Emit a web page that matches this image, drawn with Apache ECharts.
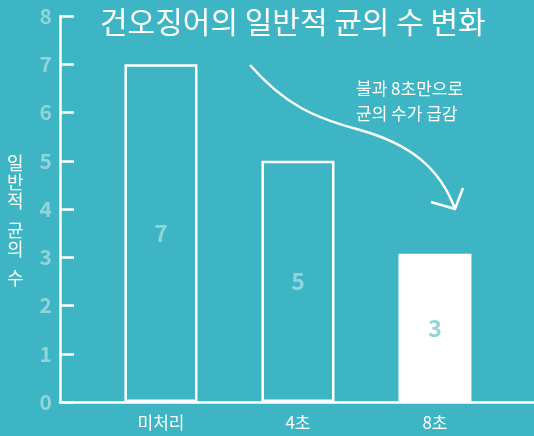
<!DOCTYPE html>
<html><head><meta charset="utf-8">
<script src="https://cdn.jsdelivr.net/npm/echarts@6/dist/echarts.min.js"></script>
<style>html,body{margin:0;padding:0;background:#3db5c4;}#c{width:534px;height:436px;}</style>
</head><body><div id="c"></div>
<script>
const title = '건오징어의 일반적 균의 수 변화';
const categories = ['미처리', '4초', '8초'];
const counts = [7, 5, 3.07];
const countLabels = ['7', '5', '3'];
const yName = ['일', '반', '적', '', '균', '의', '', '수'];
const note = ['불과 8초만으로', '균의 수가 급감'];

const BG = '#3db5c4', PALE = '#93d3da', FONT = '"Noto Sans CJK KR","Noto Sans",sans-serif';
const chart = echarts.init(document.getElementById('c'));
chart.setOption({
  backgroundColor: BG,
  animation: false,
  grid: { left: 60, right: 0, top: 16, bottom: 34 },
  xAxis: {
    type: 'value', min: -0.737, max: 2.723,
    splitLine: { show: false },
    axisLine: { show: true, onZero: false, lineStyle: { color: '#fff', width: 2.5 } },
    axisTick: { show: false },
    axisLabel: {
      customValues: [0, 1, 2],
      formatter: v => categories[Math.round(v)] || '',
      color: '#fff', fontSize: 17, fontFamily: FONT, margin: 12
    }
  },
  yAxis: {
    type: 'value', min: 0, max: 8, interval: 1,
    splitLine: { show: false },
    axisLine: { show: true, onZero: false, lineStyle: { color: '#fff', width: 2.5 } },
    axisTick: { show: true, inside: true, length: 14, lineStyle: { color: '#fff', width: 2.5 } },
    axisLabel: { color: PALE, fontSize: 21, fontWeight: 'bold', fontFamily: FONT, margin: 8 }
  },
  series: [{
    type: 'bar',
    barWidth: 73,
    data: counts.map((v, i) => ({
      value: [i, v],
      itemStyle: i === 2
        ? { color: '#fff', borderColor: '#fff', borderWidth: 2.5 }
        : { color: 'rgba(0,0,0,0)', borderColor: '#fff', borderWidth: 2.5 }
    })),
    label: {
      show: true, position: 'inside',
      formatter: p => countLabels[p.dataIndex],
      color: PALE, fontSize: 23, fontWeight: 'bold', fontFamily: FONT
    }
  }],
  graphic: [
    { type: 'text', left: 100, top: 7, style: { text: title, fill: '#fff', font: '30px ' + FONT } },
    {
      type: 'text', x: 7, y: 154,
      style: {
        text: yName.map(c => c ? '{a|' + c + '}' : '{s|}').join('\n'),
        rich: { a: { fontSize: 18, lineHeight: 19, fill: '#fff', fontFamily: FONT }, s: { lineHeight: 10, fontSize: 10 } },
        fill: '#fff', font: '18px ' + FONT
      }
    },
    { type: 'text', x: 356, y: 76, style: { text: note.join('\n'), fill: '#fff', font: '17px ' + FONT, lineHeight: 25 } },
    {
      type: 'bezierCurve',
      shape: { x1: 250, y1: 65, cpx1: 285, cpy1: 105, cpx2: 315, cpy2: 118, x2: 360, y2: 130 },
      style: { stroke: '#fff', lineWidth: 2.5, fill: null }
    },
    {
      type: 'bezierCurve',
      shape: { x1: 360, y1: 130, cpx1: 410, cpy1: 144, cpx2: 440, cpy2: 168, x2: 455, y2: 209 },
      style: { stroke: '#fff', lineWidth: 2.5, fill: null }
    },
    {
      type: 'polyline',
      shape: { points: [[431, 202], [455, 209], [463, 188]] },
      style: { stroke: '#fff', lineWidth: 2.5, fill: null }
    }
  ]
});
</script></body></html>
